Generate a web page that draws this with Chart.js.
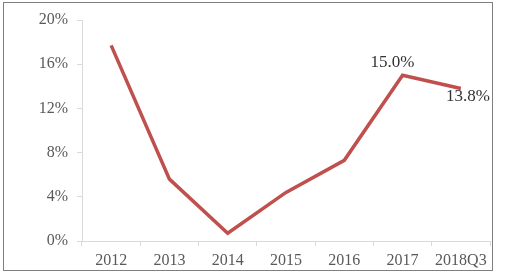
<!DOCTYPE html>
<html>
<head>
<meta charset="utf-8">
<script src="https://cdn.jsdelivr.net/npm/chart.js@4"></script>
<style>
  html, body { margin: 0; padding: 0; background: #fff; }
  #wrap { width: 506px; height: 280px; position: relative; }
</style>
</head>
<body>
<div id="wrap"><canvas id="growthChart"></canvas></div>
<script>
var years = ['2012', '2013', '2014', '2015', '2016', '2017', '2018Q3'];
var growth = [17.7, 5.6, 0.7, 4.4, 7.3, 15.0, 13.8];
var yTicks = [0, 4, 8, 12, 16, 20];

// labels only shown on the last two points
var labelOffsets = { 5: [-10, -13], 6: [7, 8] };

var frame = {
    id: 'frame',
    beforeDraw: function(chart){
        var ctx = chart.ctx
        ctx.save()
        ctx.fillStyle = '#fff'
        ctx.fillRect(0, 0, chart.width, chart.height)
        ctx.strokeStyle = '#7f7f7f'
        ctx.lineWidth = 1
        ctx.strokeRect(3.5, 2.5, 489, 268)
        ctx.restore()
    }
};

var pointLabels = {
    id: 'pointLabels',
    afterDatasetsDraw: function(chart){
        var ctx = chart.ctx
        var meta = chart.getDatasetMeta(0)
        ctx.save()
        ctx.font = '17px "Liberation Serif", serif'
        ctx.fillStyle = '#333'
        ctx.textAlign = 'center'
        ctx.textBaseline = 'middle'
        Object.keys(labelOffsets).forEach(function(i){
            var pt = meta.data[i]
            var off = labelOffsets[i]
            ctx.fillText(growth[i].toFixed(1) + '%', pt.x + off[0], pt.y + off[1])
        })
        ctx.restore()
    }
};

new Chart(document.getElementById('growthChart'), {
    type: 'line',
    data: {
        labels: years,
        datasets: [{
            data: growth,
            borderColor: '#c0504d',
            borderWidth: 3.5,
            pointRadius: 0,
            tension: 0
        }]
    },
    options: {
        responsive: true,
        maintainAspectRatio: false,
        animation: false,
        layout: { padding: { top: 20, right: 16, left: 0, bottom: 0 } },
        plugins: { legend: { display: false }, tooltip: { enabled: false } },
        scales: {
            x: {
                offset: true,
                grid: { display: true, offset: true, drawOnChartArea: false, tickLength: 5, color: '#d9d9d9' },
                border: { color: '#d9d9d9' },
                ticks: { color: '#595959', padding: 5, font: { family: '"Liberation Serif", serif', size: 16 }, maxRotation: 0, autoSkip: false },
                afterFit: function(scale){ scale.height = 39 }
            },
            y: {
                min: yTicks[0],
                max: yTicks[yTicks.length - 1],
                afterBuildTicks: function(scale){
                    scale.ticks = yTicks.map(function(v){ return { value: v } })
                },
                grid: { display: true, drawOnChartArea: false, tickLength: 5, color: '#d9d9d9' },
                border: { color: '#d9d9d9' },
                ticks: {
                    color: '#595959',
                    padding: 9,
                    font: { family: '"Liberation Serif", serif', size: 16 },
                    callback: function(v){ return v + '%' }
                },
                afterFit: function(scale){ scale.width = 82 }
            }
        }
    },
    plugins: [frame, pointLabels]
});
</script>
</body>
</html>
